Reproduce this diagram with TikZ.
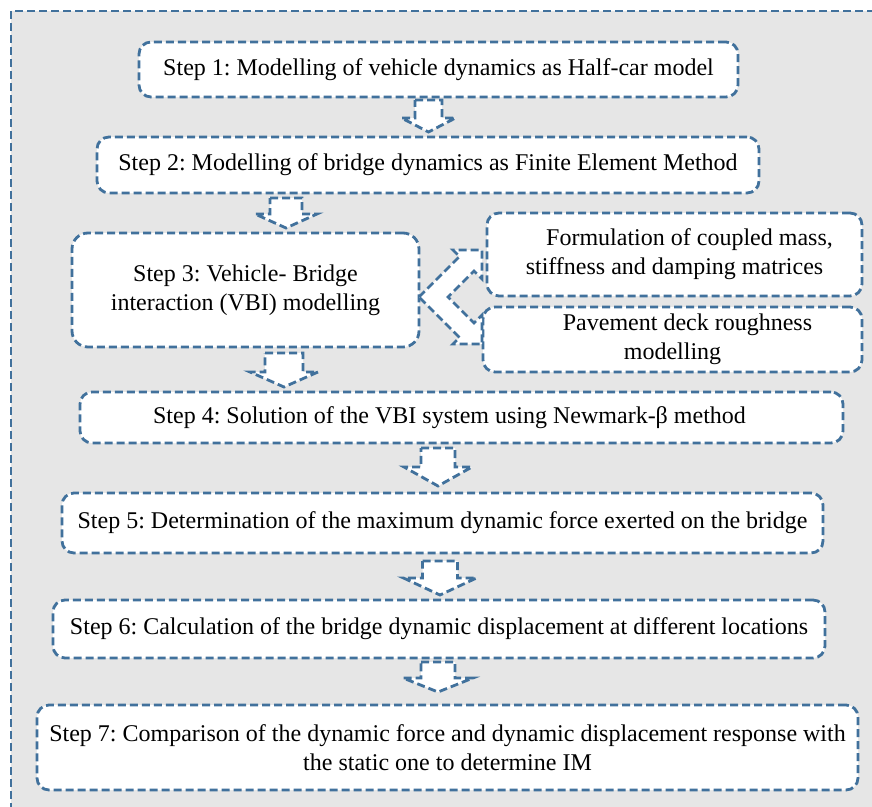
\documentclass[tikz,border=0pt]{standalone}
\usepackage{fontspec}
\setmainfont{Liberation Serif}
\frenchspacing
\definecolor{bl}{RGB}{65,113,156}
\definecolor{bgc}{RGB}{230,230,230}
\tikzset{
  dsh/.style={draw=bl, line width=2.8bp, dash pattern=on 8bp off 4bp},
  stepbox/.style={dsh, fill=white, rounded corners=12bp, inner sep=0pt, align=center,
    font=\fontsize{24bp}{29bp}\selectfont\frenchspacing},
  blk/.style={dsh, fill=white, line join=miter},
}
\newcommand\myarrow[6]{%
  \draw[blk] (#1-#3,#2) -- (#1+#3,#2) -- (#1+#3,#4) -- (#1+#5,#4) -- (#1,#6)
    -- (#1-#5,#4) -- (#1-#3,#4) -- cycle;}
\begin{document}
\begin{tikzpicture}[x=1bp,y=-1bp]
\useasboundingbox (0,0) rectangle (872,807);
\clip (0,0) rectangle (872,807);
\draw[dsh, fill=bgc] (11,11) rectangle (890,830);

\node[stepbox, minimum width=599bp, minimum height=55bp] (s1) at (438.5,69.5)
  {Step 1: Modelling of vehicle dynamics as Half-car model};
\node[stepbox, minimum width=662bp, minimum height=56bp] (s2) at (428,165)
  {Step 2: Modelling of bridge dynamics as Finite Element Method};
\node[stepbox, rounded corners=16bp, minimum width=347bp, minimum height=114bp] (s3) at (245.5,290)
  {Step 3: Vehicle- Bridge\\interaction (VBI) modelling};
\node[stepbox, minimum width=375bp, minimum height=83bp] (f) at (674.5,254.5)
  {\hspace*{30bp}Formulation of coupled mass,\\stiffness and damping matrices};
\node[stepbox, minimum width=379bp, minimum height=65bp] (p) at (672.5,339.5)
  {\hspace*{30bp}Pavement deck roughness\\modelling};
\node[stepbox, minimum width=763bp, minimum height=51bp] (s4) at (461.5,417.5)
  {Step 4: Solution of the VBI system using Newmark-β method\hspace*{24bp}};
\node[stepbox, minimum width=761bp, minimum height=60bp] (s5) at (442.5,523)
  {Step 5: Determination of the maximum dynamic force exerted on the bridge};
\node[stepbox, minimum width=772bp, minimum height=58bp] (s6) at (439,629)
  {Step 6: Calculation of the bridge dynamic displacement at different locations};
\node[stepbox, minimum width=821bp, minimum height=85bp] (s7) at (447.5,747.5)
  {Step 7: Comparison of the dynamic force and dynamic displacement response with\\the static one to determine IM};

\myarrow{428.5}{100}{13.5}{118}{27}{132}
\myarrow{286}{198}{16}{214}{31}{228}
\myarrow{284}{353}{19}{372}{34}{387}
\myarrow{438}{448}{17}{467}{34}{486}
\myarrow{440}{561}{17.5}{578}{36.5}{595}
\myarrow{438}{662}{17}{678}{35}{692}

\draw[blk] (419,297) -- (459.5,256.5) -- (453,250) -- (482,250) -- (482,279) -- (474,271)
  -- (448,297) -- (474,323) -- (482,315) -- (482,344) -- (453,344) -- (459.5,337.5) -- cycle;
\end{tikzpicture}
\end{document}
